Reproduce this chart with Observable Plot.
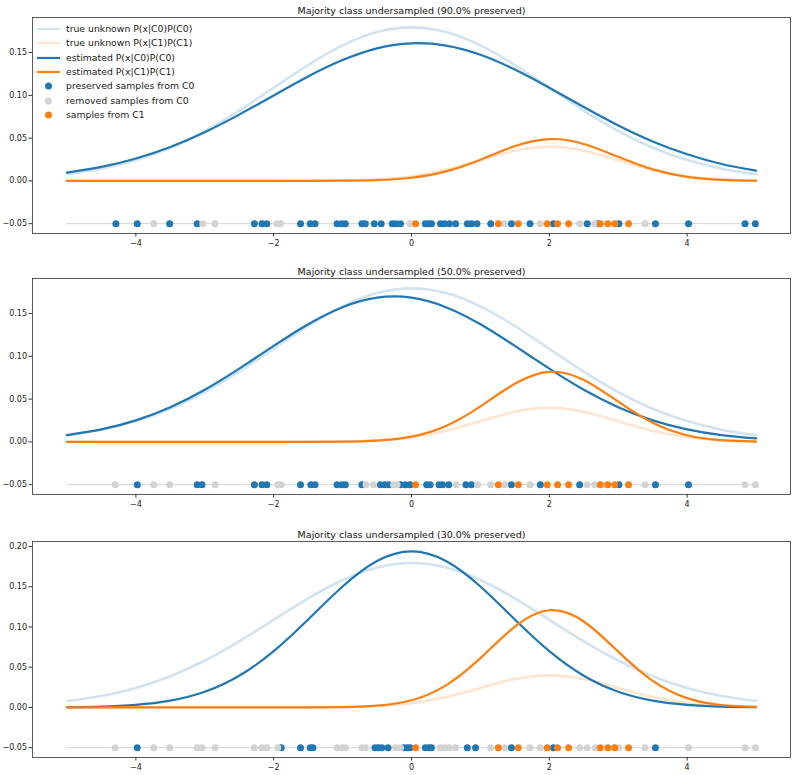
<!DOCTYPE html>
<html><head><meta charset="utf-8">
<script src="https://cdn.jsdelivr.net/npm/d3@7"></script>
<script src="https://cdn.jsdelivr.net/npm/@observablehq/plot@0.6"></script>
<style>
body{margin:0;background:#fff;font-family:"DejaVu Sans",sans-serif;}
#root{position:relative;width:800px;height:775px;overflow:hidden;}
.panel{position:absolute;left:0;}
.legend{position:absolute;left:33px;top:19px;font-size:9.3px;color:#222;}
.row{position:absolute;left:0;height:14px;white-space:nowrap;}
.row svg{position:absolute;left:0;top:0;}
.row span{position:absolute;left:33px;top:0;line-height:14px;}
</style></head>
<body><div id="root"></div>
<script>
// grid along x where the curves were read
const xs = [-5,-4.5,-4,-3.5,-3,-2.5,-2,-1.5,-1,-0.5,0,0.5,1,1.5,2,2.5,3,3.5,4,4.5,5];
const trueC0 = [0.0079,0.0143,0.0243,0.0388,0.0583,0.0822,0.1089,0.1355,0.1584,0.1740,0.1795,0.1740,0.1584,0.1355,0.1089,0.0822,0.0583,0.0388,0.0243,0.0143,0.0079];
const trueC1 = [0,0,0,0,0,0,0,0.0001,0.0004,0.0018,0.0054,0.0130,0.0242,0.0352,0.0399,0.0352,0.0242,0.0130,0.0054,0.0018,0.0004];
const est90C0 = [0.0097,0.0163,0.0261,0.0396,0.0569,0.0775,0.0999,0.1221,0.1412,0.1549,0.1608,0.1582,0.1475,0.1302,0.1089,0.0863,0.0648,0.0461,0.0311,0.0198,0.0120];
const est90C1 = [0,0,0,0,0,0,0,0,0.0002,0.0009,0.0037,0.0111,0.0248,0.0407,0.0489,0.0432,0.0281,0.0134,0.0047,0.0012,0.0002];
const est50C0 = [0.0080,0.0147,0.0252,0.0406,0.0609,0.0856,0.1122,0.1375,0.1575,0.1686,0.1686,0.1575,0.1375,0.1122,0.0856,0.0609,0.0406,0.0252,0.0147,0.0080,0.0040];
const est50C1 = [0,0,0,0,0,0,0,0,0.0003,0.0015,0.0061,0.0186,0.0415,0.0680,0.0819,0.0724,0.0470,0.0224,0.0078,0.0020,0.0004];
const est30C0 = [0.0003,0.0011,0.0033,0.0085,0.0195,0.0394,0.0699,0.1093,0.1503,0.1820,0.1940,0.1820,0.1503,0.1093,0.0699,0.0394,0.0195,0.0085,0.0033,0.0011,0.0003];
const est30C1 = [0,0,0,0,0,0,0,0,0.0004,0.0022,0.0090,0.0275,0.0613,0.1004,0.1208,0.1068,0.0693,0.0330,0.0116,0.0030,0.0006];

// samples (all drawn on the row y = -0.05)
const samplesC1 = [0.06,1.26,1.55,1.97,2.12,2.28,2.74,2.85,2.95,3.15];
const kept90 = [-4.29,-3.98,-3.51,-3.11,-2.28,-2.17,-2.10,-1.61,-1.47,-1.40,-1.08,-1.01,-0.96,-0.72,-0.67,-0.54,-0.44,-0.28,-0.23,-0.16,0.20,0.25,0.29,0.42,0.48,0.55,0.64,0.81,0.87,0.95,1.15,1.45,1.72,2.06,2.55,2.70,3.01,3.54,4.02,4.84,4.99];
const removed90 = [-3.74,-3.03,-2.85,-1.95,-1.90,-0.02,1.35,1.87,2.44,2.66,3.39];
const kept50 = [-3.98,-3.11,-3.04,-2.28,-2.17,-2.10,-1.61,-1.46,-1.40,-1.08,-1.01,-0.96,-0.72,-0.45,-0.39,-0.33,-0.16,-0.09,-0.02,0.22,0.27,0.40,0.45,0.54,0.79,0.87,1.45,1.87,2.44,3.01,3.54,4.02];
const removed50 = [-4.30,-3.74,-3.51,-2.85,-1.94,-1.89,-0.66,-0.55,-0.26,-0.21,0.65,0.96,1.15,1.35,1.72,2.55,2.66,2.82,3.39,4.84,4.99];
const kept30 = [-3.98,-1.89,-1.61,-1.47,-1.43,-0.53,-0.48,-0.43,-0.34,-0.11,-0.06,-0.02,0.20,0.25,0.29,0.81,0.93,1.45,2.06,3.54];
const removed30 = [-4.30,-3.74,-3.51,-3.11,-3.04,-2.85,-2.28,-2.17,-2.10,-1.94,-1.08,-1.01,-0.96,-0.72,-0.67,-0.23,-0.16,0.42,0.48,0.55,0.64,1.15,1.35,1.72,1.87,2.44,2.55,2.67,3.01,3.39,4.02,4.84,4.99];
const sampleRowY = -0.05;
const sampleRowX = [-5, 5];

const titles = ["Majority class undersampled (90.0% preserved)","Majority class undersampled (50.0% preserved)","Majority class undersampled (30.0% preserved)"];
const xTicks = [-4,-2,0,2,4];
const yTicksA = [-0.05,0,0.05,0.10,0.15];
const yTicksB = [-0.05,0,0.05,0.10,0.15,0.20];

const legendLabels = ["true unknown P(x|C0)P(C0)","true unknown P(x|C1)P(C1)","estimated P(x|C0)P(C0)","estimated P(x|C1)P(C1)","preserved samples from C0","removed samples from C0","samples from C1"];

const BLUE="#1f77b4", ORANGE="#ff7f0e", LBLUE="#d2e3f0", LORANGE="#ffe5cf", GRAY="#d3d3d3";

const panels = [
  {top:0, height:262, mt:17, mb:29, y:[-0.0615,0.191], yt:yTicksA, kept:kept90, removed:removed90, c0:est90C0, c1:est90C1, title:titles[0]},
  {top:262, height:262, mt:16, mb:30, y:[-0.0615,0.191], yt:yTicksA, kept:kept50, removed:removed50, c0:est50C0, c1:est50C1, title:titles[1]},
  {top:524, height:251, mt:17, mb:18, y:[-0.0622,0.2062], yt:yTicksB, kept:kept30, removed:removed30, c0:est30C0, c1:est30C1, title:titles[2]}
];

const root = document.getElementById("root");
const curve = (arr) => xs.map((x,i)=>({x, y:arr[i]}));

for (const p of panels) {
  const div = document.createElement("div");
  div.className = "panel";
  div.style.top = p.top + "px";
  const chart = Plot.plot({
    width: 800, height: p.height,
    marginLeft: 32, marginRight: 10, marginTop: p.mt, marginBottom: p.mb,
    style: {fontFamily: "DejaVu Sans", fontSize: "8px", color: "#222", background: "#fff"},
    x: {domain: [-5.5, 5.5]},
    y: {domain: p.y},
    marks: [
      Plot.axisX({ticks: xTicks, tickSize: 3.5, tickPadding: 3, label: null, stroke: "#333"}),
      Plot.axisY({ticks: p.yt, tickSize: 3.5, tickPadding: 2, tickFormat: ".2f", label: null, stroke: "#333"}),
      Plot.line(curve(trueC0), {x:"x", y:"y", stroke: LBLUE, strokeWidth: 2.6, curve: "natural"}),
      Plot.line(curve(trueC1), {x:"x", y:"y", stroke: LORANGE, strokeWidth: 2.6, curve: "natural"}),
      Plot.line(curve(p.c0), {x:"x", y:"y", stroke: BLUE, strokeWidth: 2.2, curve: "natural"}),
      Plot.line(curve(p.c1), {x:"x", y:"y", stroke: ORANGE, strokeWidth: 2.2, curve: "natural"}),
      Plot.ruleY([sampleRowY], {x1: sampleRowX[0], x2: sampleRowX[1], stroke: GRAY, strokeWidth: 1}),
      Plot.dot(p.kept, {x: d=>d, y: ()=>sampleRowY, r: 3.5, fill: BLUE, stroke: null}),
      Plot.dot(p.removed, {x: d=>d, y: ()=>sampleRowY, r: 3.5, fill: GRAY, stroke: null}),
      Plot.dot(samplesC1, {x: d=>d, y: ()=>sampleRowY, r: 3.5, fill: ORANGE, stroke: null}),
      Plot.frame({stroke: "#333", strokeWidth: 0.8}),
      Plot.text([p.title], {frameAnchor: "top", dy: -4, lineAnchor: "bottom", fontSize: 9.5, fill: "#111"})
    ]
  });
  div.appendChild(chart);
  root.appendChild(div);
}

// legend (inside first panel, top-left)
const leg = document.createElement("div");
leg.className = "legend";
const swatch = [
  {type:"line", c:LBLUE}, {type:"line", c:LORANGE}, {type:"line", c:BLUE}, {type:"line", c:ORANGE},
  {type:"dot", c:BLUE}, {type:"dot", c:GRAY}, {type:"dot", c:ORANGE}
];
legendLabels.forEach((lab, i) => {
  const row = document.createElement("div");
  row.className = "row";
  row.style.top = (3 + i*14.3) + "px";
  const s = swatch[i];
  const inner = s.type === "line"
    ? `<line x1="4" x2="27" y1="7" y2="7" stroke="${s.c}" stroke-width="2.2"/>`
    : `<circle cx="15.5" cy="7" r="3.5" fill="${s.c}"/>`;
  row.innerHTML = `<svg width="30" height="14">${inner}</svg><span>${lab}</span>`;
  leg.appendChild(row);
});
root.appendChild(leg);
</script></body></html>
